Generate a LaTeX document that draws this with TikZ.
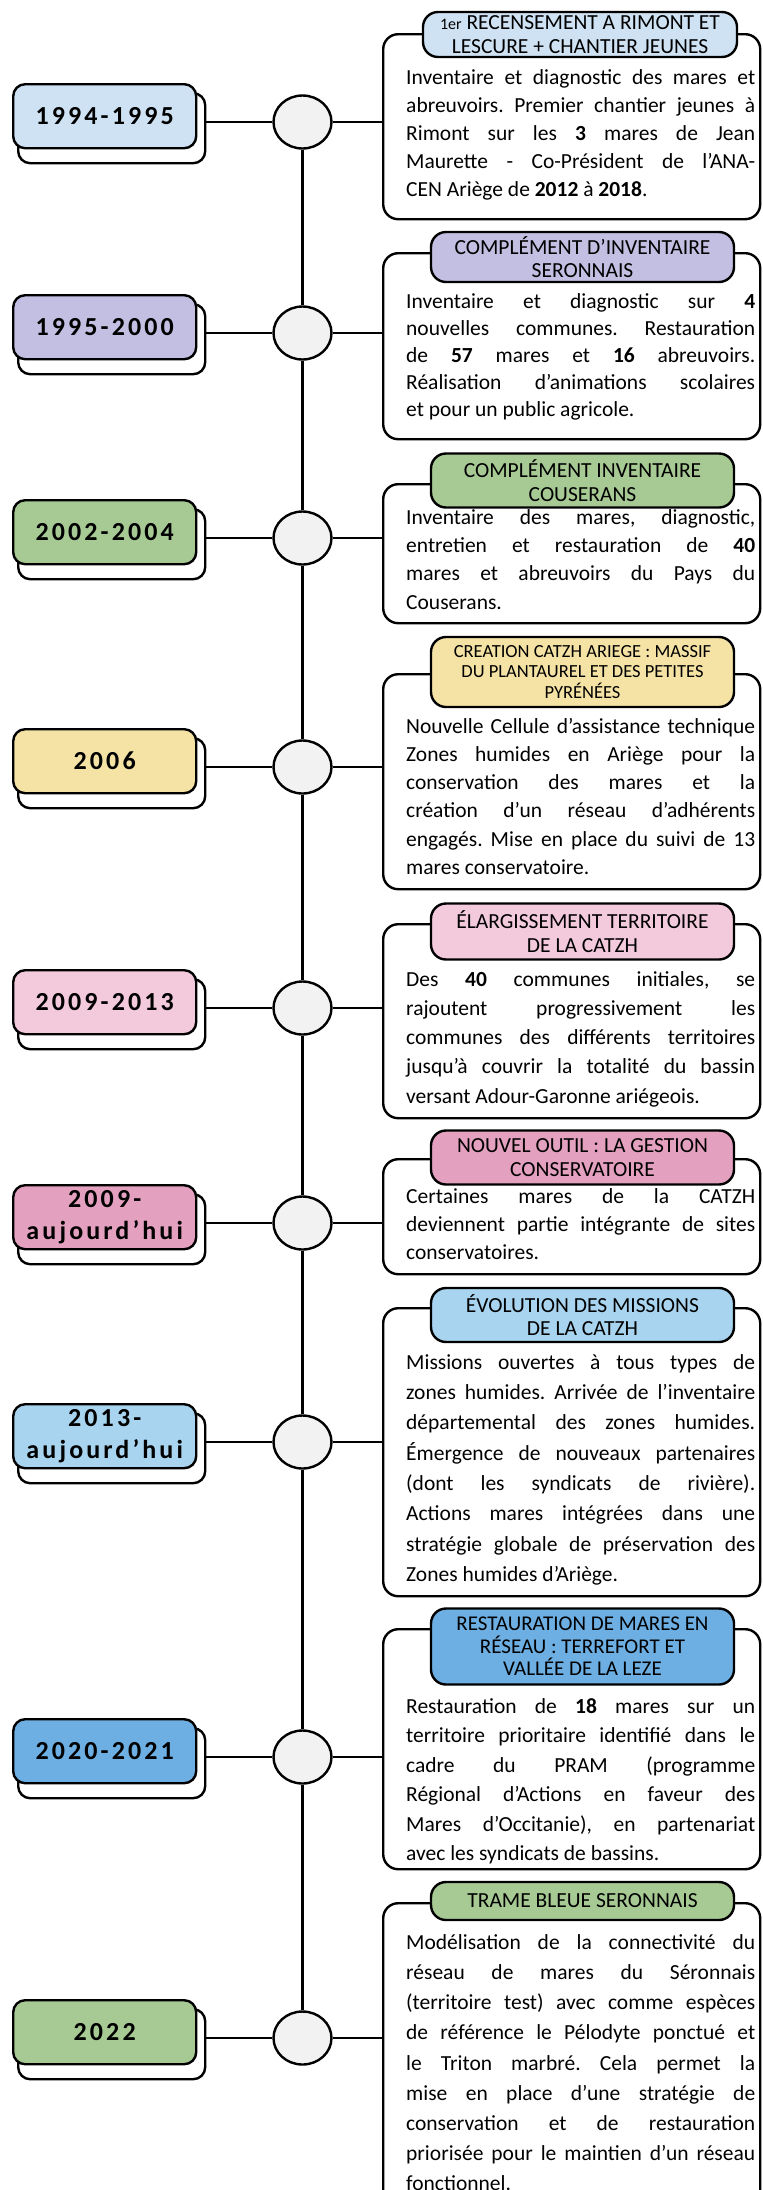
\documentclass[tikz,border=0pt]{standalone}
\usepackage{fontspec}
\setmainfont{Carlito}
\newfontfamily\datef[LetterSpace=12]{Carlito}
\usetikzlibrary{shapes.geometric}
\setlength\parindent{0pt}
\frenchspacing
\tolerance=10000 \hbadness=10000 \hyphenpenalty=10000 \exhyphenpenalty=10000
\definecolor{cA}{HTML}{CFE2F3}
\definecolor{cB}{HTML}{C3BFE2}
\definecolor{cC}{HTML}{A7CA94}
\definecolor{cD}{HTML}{F5E3A5}
\definecolor{cE}{HTML}{F2CADC}
\definecolor{cF}{HTML}{E3A0BF}
\definecolor{cG}{HTML}{A8D4EF}
\definecolor{cH}{HTML}{6DAFE2}
\definecolor{circfill}{HTML}{F2F2F2}
\tikzset{
  dshadow/.style={draw, line width=2.4pt, fill=white, rounded corners=12pt, minimum width=187pt, minimum height=70pt, inner sep=0pt, anchor=north west},
  dbox/.style={draw, line width=2.4pt, rounded corners=12pt, minimum width=183pt, minimum height=64pt, inner sep=0pt, anchor=north west, align=center, font=\datef\bfseries\fontsize{26}{32}\selectfont},
  tcirc/.style={draw, line width=2.4pt, fill=circfill, ellipse, minimum width=58pt, minimum height=53pt, inner sep=0pt},
  cbox/.style={draw, line width=2.4pt, fill=white, rounded corners=15pt, minimum width=377pt, inner sep=0pt, anchor=north west},
  pill/.style={draw, line width=2.4pt, rounded corners=15pt, minimum width=303pt, inner sep=2pt, align=center, font=\fontsize{21.5}{23.5}\selectfont},
  body/.style={text width=349pt, align=justify, inner sep=0pt, anchor=north west},
  conn/.style={line width=2.4pt},
}
\newcommand\daterow[4]{%
  \node[dshadow] (s#1) at (17,#2-30) {};
  \node[dbox, fill=#3] (d#1) at (12,#2-39) {#4};
  \node[tcirc] (c#1) at (302.5,#2) {};
}
\begin{document}
\begin{tikzpicture}[x=1pt,y=-1pt]
\useasboundingbox (0,0) rectangle (763,2190);
\clip (0,0) rectangle (763,2190);
\fill[white] (0,0) rectangle (763,2190);

% ---------- Row 1
\daterow{1}{122}{cA}{1994-1995}
\node[cbox, minimum height=185pt] (b1) at (382,33) {};
\node[pill, fill=cA, minimum width=314pt, minimum height=45pt] (p1) at (580,34.5) {{\fontsize{16}{23}\selectfont 1er} RECENSEMENT A RIMONT ET\\LESCURE + CHANTIER JEUNES};
\node[body, font=\fontsize{21.5}{28}\selectfont] (t1) at (406,84-0.7*28) {\strut Inventaire et diagnostic des mares et\linebreak abreuvoirs. Premier chantier jeunes à\linebreak Rimont sur les \textbf{3} mares de Jean\linebreak Maurette - Co-Président de l’ANA-\linebreak CEN Ariège de \textbf{2012} à \textbf{2018}.};

% ---------- Row 2
\daterow{2}{333}{cB}{1995-2000}
\node[cbox, minimum height=186pt] (b2) at (382,252) {};
\node[pill, fill=cB, minimum height=50pt] (p2) at (582.5,257) {COMPLÉMENT D’INVENTAIRE\\SERONNAIS};
\node[body, font=\fontsize{21.5}{27}\selectfont] (t2) at (406,308-0.7*27) {\strut Inventaire et diagnostic sur \textbf{4}\linebreak nouvelles communes. Restauration\linebreak de \textbf{57} mares et \textbf{16} abreuvoirs.\linebreak Réalisation d’animations scolaires\linebreak et pour un public agricole.};

% ---------- Row 3
\daterow{3}{538}{cC}{2002-2004}
\node[cbox, minimum height=139pt] (b3) at (382,483) {};
\node[pill, fill=cC, minimum height=54pt] (p3) at (582.5,480.5) {COMPLÉMENT INVENTAIRE\\COUSERANS};
\node[body, font=\fontsize{21.5}{28.3}\selectfont] (t3) at (406,524-0.7*28.3) {\strut Inventaire des mares, diagnostic,\linebreak entretien et restauration de \textbf{40}\linebreak mares et abreuvoirs du Pays du\linebreak Couserans.};

% ---------- Row 4
\daterow{4}{767}{cD}{2006}
\node[cbox, minimum height=215pt] (b4) at (382,673) {};
\node[pill, fill=cD, minimum height=70pt, font=\fontsize{18.5}{20.5}\selectfont] (p4) at (582.5,672) {CREATION CATZH ARIEGE : MASSIF\\DU PLANTAUREL ET DES PETITES\\PYRÉNÉES};
\node[body, font=\fontsize{21.5}{28.2}\selectfont] (t4) at (406,733-0.7*28.2) {\strut Nouvelle Cellule d’assistance technique\linebreak Zones humides en Ariège pour la\linebreak conservation des mares et la\linebreak création d’un réseau d’adhérents\linebreak engagés. Mise en place du suivi de 13\linebreak mares conservatoire.};

% ---------- Row 5
\daterow{5}{1008}{cE}{2009-2013}
\node[cbox, minimum height=194pt] (b5) at (382,923) {};
\node[pill, fill=cE, minimum height=56pt] (p5) at (582.5,931.5) {ÉLARGISSEMENT TERRITOIRE\\DE LA CATZH};
\node[body, font=\fontsize{21.5}{29.2}\selectfont] (t5) at (406,986-0.7*29.2) {\strut Des \textbf{40} communes initiales, se\linebreak rajoutent progressivement les\linebreak communes des différents territoires\linebreak jusqu’à couvrir la totalité du bassin\linebreak versant Adour-Garonne ariégeois.};

% ---------- Row 6
\daterow{6}{1223}{cF}{2009-\\aujourd’hui}
\node[cbox, minimum height=115pt] (b6) at (382,1158) {};
\node[pill, fill=cF, minimum height=54pt] (p6) at (582.5,1157.5) {NOUVEL OUTIL : LA GESTION\\CONSERVATOIRE};
\node[body, font=\fontsize{21.5}{28}\selectfont] (t6) at (406,1203-0.7*28) {\strut Certaines mares de la CATZH\linebreak deviennent partie intégrante de sites\linebreak conservatoires.};

% ---------- Row 7
\daterow{7}{1442}{cG}{2013-\\aujourd’hui}
\node[cbox, minimum height=288pt] (b7) at (382,1307) {};
\node[pill, fill=cG, minimum height=54pt] (p7) at (582.5,1315) {ÉVOLUTION DES MISSIONS\\DE LA CATZH};
\node[body, font=\fontsize{21.5}{30.3}\selectfont] (t7) at (406,1369-0.7*30.3) {\strut Missions ouvertes à tous types de\linebreak zones humides. Arrivée de l’inventaire\linebreak départemental des zones humides.\linebreak Émergence de nouveaux partenaires\linebreak (dont les syndicats de rivière).\linebreak Actions mares intégrées dans une\linebreak stratégie globale de préservation des\linebreak Zones humides d’Ariège.};

% ---------- Row 8
\daterow{8}{1757}{cH}{2020-2021}
\node[cbox, minimum height=240pt] (b8) at (382,1628) {};
\node[pill, fill=cH, minimum height=76pt, font=\fontsize{21}{22.5}\selectfont] (p8) at (582.5,1646.5) {RESTAURATION DE MARES EN\\RÉSEAU : TERREFORT ET\\VALLÉE DE LA LEZE};
\node[body, font=\fontsize{21.5}{29.5}\selectfont] (t8) at (406,1713-0.7*29.5) {\strut Restauration de \textbf{18} mares sur un\linebreak territoire prioritaire identifié dans le\linebreak cadre du PRAM (programme\linebreak Régional d’Actions en faveur des\linebreak Mares d’Occitanie), en partenariat\linebreak avec les syndicats de bassins.};

% ---------- Row 9
\daterow{9}{2038}{cC}{2022}
\node[cbox, minimum height=340pt] (b9) at (382,1902) {};
\node[pill, fill=cC, minimum height=38pt] (p9) at (582.5,1901) {TRAME BLEUE SERONNAIS};
\node[body, font=\fontsize{21.5}{30.2}\selectfont] (t9) at (406,1949-0.7*30.2) {\strut Modélisation de la connectivité du\linebreak réseau de mares du Séronnais\linebreak (territoire test) avec comme espèces\linebreak de référence le Pélodyte ponctué et\linebreak le Triton marbré. Cela permet la\linebreak mise en place d’une stratégie de\linebreak conservation et de restauration\linebreak priorisée pour le maintien d’un réseau\linebreak fonctionnel.};

% ---------- connectors
\foreach \i in {1,...,9}{
  \draw[conn] (s\i.east |- c\i.west) -- (c\i.west);
  \draw[conn] (c\i.east) -- (b\i.west |- c\i.east);
}
\foreach \i/\j in {1/2,2/3,3/4,4/5,5/6,6/7,7/8,8/9}{
  \draw[conn] (c\i.south) -- (c\j.north);
}
\end{tikzpicture}
\end{document}
